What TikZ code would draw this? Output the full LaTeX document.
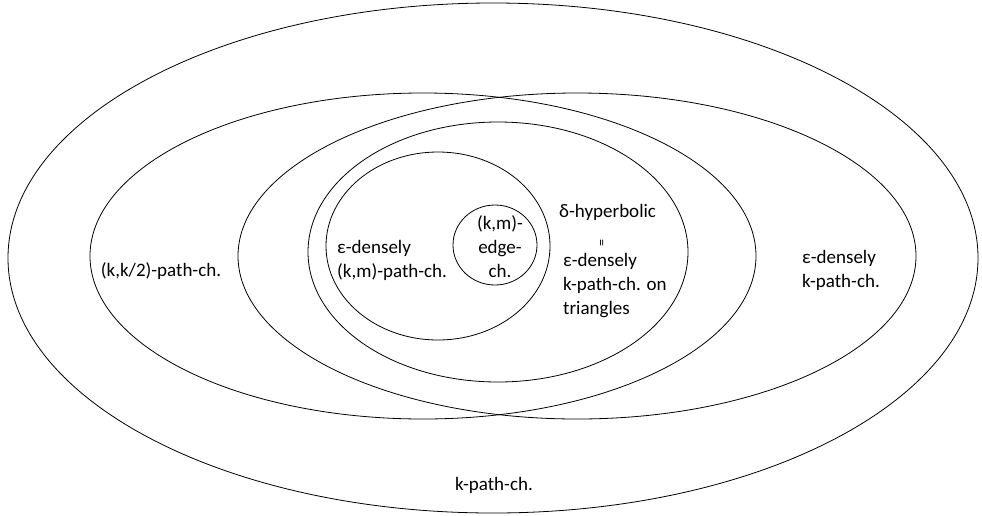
\documentclass[tikz,border=0pt]{standalone}
\usepackage{fontspec}
\setmainfont{Carlito}
\usetikzlibrary{positioning}
\begin{document}
\begin{tikzpicture}[x=1pt,y=-1pt,set/.style = {draw, line width=0.8pt},txt/.style = {font=\fontsize{19}{24}\selectfont, inner sep=0pt, align=left},]
\useasboundingbox (0,0) rectangle (982,515);
\draw[set] (493,258) ellipse [x radius=485, y radius=255];
\draw[set] (423,256) ellipse [x radius=333, y radius=163];
\draw[set] (577,256) ellipse [x radius=339, y radius=163];
\draw[set] (498,252) ellipse [x radius=190, y radius=130];
\draw[set] (438,246) ellipse [x radius=112, y radius=94];
\draw[set] (495,245) ellipse [x radius=42, y radius=40];
\node (K) at (494,485)[txt] {k-path-ch.};
\node (KK) at (161,271)[txt] {(k,k/2)-path-ch.};
\node (EK) at (802,270)[txt,anchor=west] {ε-densely\\k-path-ch.};
\node (EKM) at (337,260)[txt,anchor=west] {ε-densely\\(k,m)-path-ch.};
\node (KM) at (500,247)[txt,align=center] {(k,m)-\\edge-\\ch.};
\node (D) at (559,212)[txt,anchor=west] {δ-hyperbolic};
\node (EQ) at (603,243)[rotate=90,inner sep=0pt,font=\fontsize{14}{16}\selectfont] {=};
\node (ET) at (563,286)[txt,anchor=west] {ε-densely\\k-path-ch. on\\triangles};
\end{tikzpicture}
\end{document}
